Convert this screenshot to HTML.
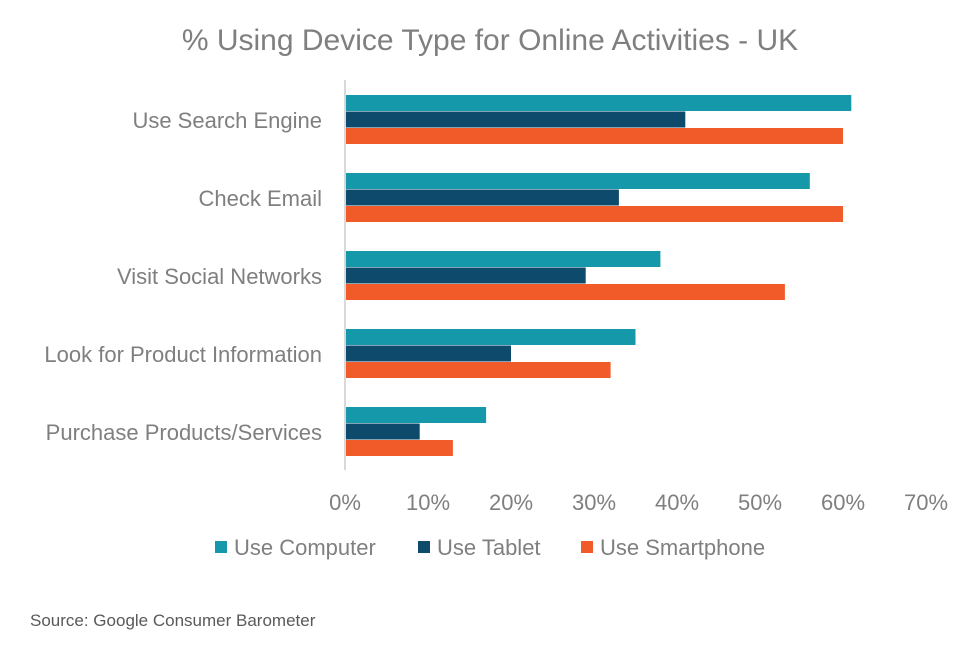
<!DOCTYPE html>
<html><head><meta charset="utf-8"><style>
body{margin:0;background:#fff;font-family:"Liberation Sans",sans-serif;}
svg text{font-family:"Liberation Sans",sans-serif;}
</style></head><body>
<svg width="970" height="646" viewBox="0 0 970 646">
<text x="490" y="50" text-anchor="middle" font-size="30" fill="#7f7f7f">% Using Device Type for Online Activities - UK</text>
<g id="plot"></g>
<text x="30" y="626" font-size="17" fill="#595959">Source: Google Consumer Barometer</text>
</svg>
<script>
const categories=["Use Search Engine","Check Email","Visit Social Networks","Look for Product Information","Purchase Products/Services"];
const computer=[61,56,38,35,17];
const tablet=[41,33,29,20,9];
const smartphone=[60,60,53,32,13];
const ticks=[0,10,20,30,40,50,60,70];
const seriesNames=["Use Computer","Use Tablet","Use Smartphone"];
const colors=["#1598aa","#0e4a6b","#f15a29"];
const NS="http://www.w3.org/2000/svg";
const g=document.getElementById('plot');
const x0=345, pxPer=8.3;
const xs=v=>x0+v*pxPer;
const ys=i=>120+i*78;
function el(t,a){const e=document.createElementNS(NS,t);for(const k in a)e.setAttribute(k,a[k]);g.appendChild(e);return e;}
const ax=el('line',{x1:x0,y1:80,x2:x0,y2:470,stroke:'#d9d9d9','stroke-width':2});


ticks.forEach(t=>{const e=el('text',{x:xs(t),y:510,'text-anchor':'middle','font-size':22,fill:'#7f7f7f'});e.textContent=t+'%';

});
const series=[computer,tablet,smartphone];
categories.forEach((c,i)=>{
 const e=el('text',{x:322,y:ys(i)+8,'text-anchor':'end','font-size':22,fill:'#7f7f7f'});e.textContent=c;
 
 
 series.forEach((s,j)=>{
  const r=el('rect',{x:x0+1,y:ys(i)-25+j*16.5,width:xs(s[i])-x0-1,height:16,fill:colors[j]});
  
  
 });
});
const lx=[215,418,581];
seriesNames.forEach((n,j)=>{
 const r=el('rect',{x:lx[j],y:541,width:12,height:12,fill:colors[j]});
 
 
 const t=el('text',{x:lx[j]+19,y:555,'font-size':22,fill:'#7f7f7f'});t.textContent=n;
 
 
});
</script>
</body></html>
